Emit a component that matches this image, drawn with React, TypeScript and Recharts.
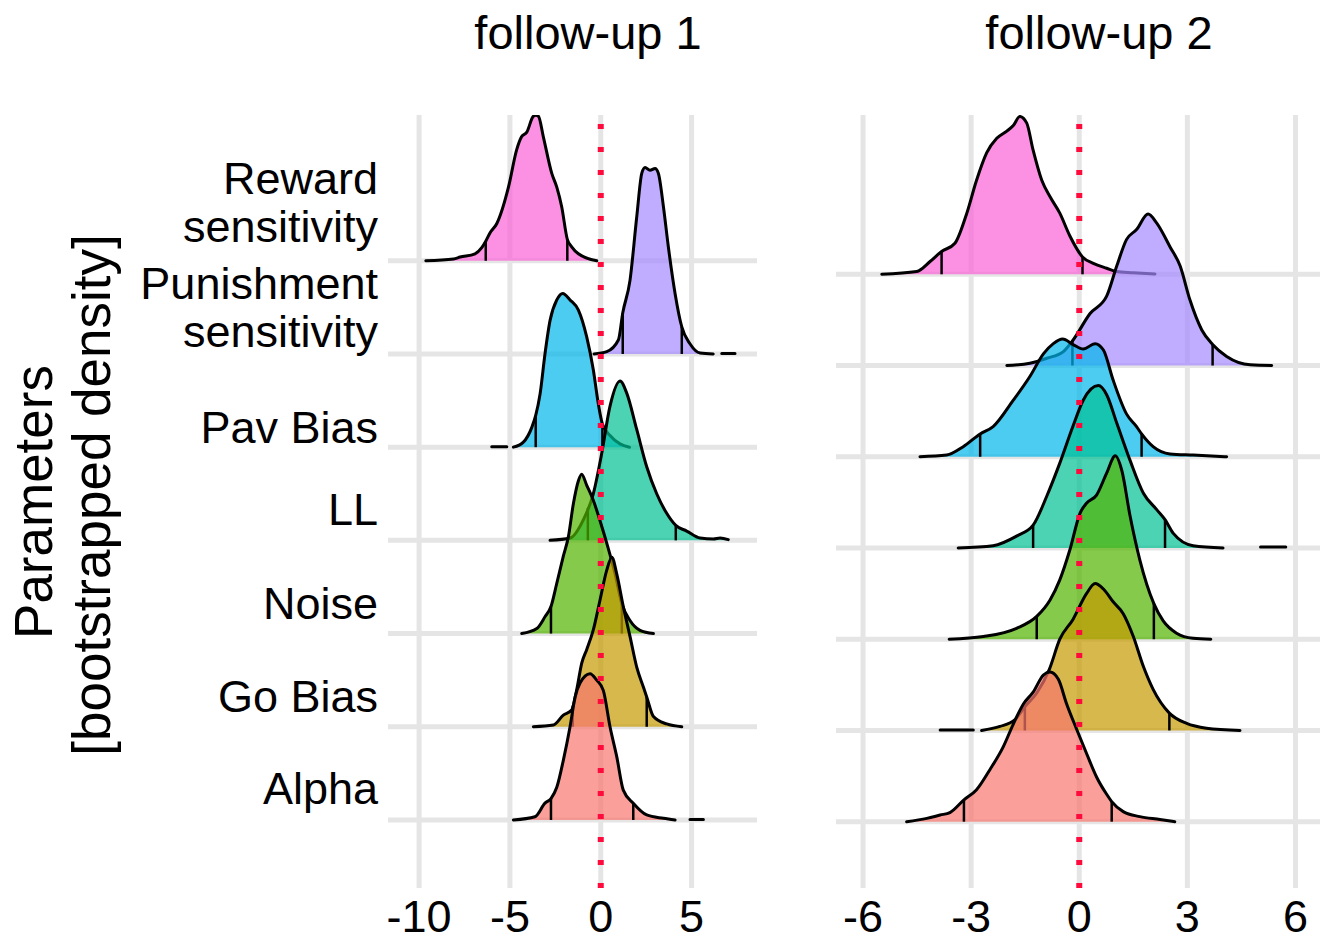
import { ComposedChart, Area, XAxis, YAxis, CartesianGrid, ReferenceLine } from "recharts";

type Pt = [number, number | null];

const FONT = '"Liberation Sans", Arial, Helvetica, sans-serif';

// rows, bottom to top
const params = ["Alpha", "Go Bias", "Noise", "LL", "Pav Bias", "Punishment\nsensitivity", "Reward\nsensitivity"];
const paramColors = ["#F8766D", "#C49A00", "#53B400", "#00C094", "#00B6EB", "#A58AFF", "#FB61D7"];
const rowBase = [0, 1, 2, 3, 4, 5, 6];
// where the y labels sit (baseline of the last text line), in row units
const labelY = [0.17, 1.16, 2.16, 3.17, 4.04, 5.08, 6.2];

const fu1Ticks = [-10, -5, 0, 5];
const fu2Ticks = [-6, -3, 0, 3, 6];

// follow-up 1: [x, ridge height in row units]
const fu1Alpha: Pt[] = [[-4.81, 0], [-3.62, 0.035], [-3.07, 0.18], [-2.74, 0.23], [-2.42, 0.35], [-2.06, 0.64], [-1.69, 1.0], [-1.41, 1.32], [-1.14, 1.47], [-0.59, 1.57], [-0.22, 1.5], [0.14, 1.39], [0.51, 1.0], [0.88, 0.68], [1.24, 0.32], [1.79, 0.18], [2.53, 0.054], [3.45, 0.018], [4.09, 0], [4.5, null], [4.91, 0.005], [5.65, 0.005]];
const fu1GoBias: Pt[] = [[-3.71, 0], [-2.61, 0.018], [-2.06, 0.125], [-1.6, 0.18], [-1.32, 0.4], [-1.05, 0.68], [-0.77, 0.83], [-0.41, 1.04], [-0.04, 1.36], [0.33, 1.68], [0.61, 1.82], [0.88, 1.64], [1.24, 1.29], [1.61, 0.97], [1.98, 0.64], [2.34, 0.43], [2.53, 0.32], [2.9, 0.11], [3.63, 0.03], [4.46, 0]];
const fu1Noise: Pt[] = [[-4.35, 0], [-3.52, 0.054], [-3.07, 0.18], [-2.74, 0.29], [-2.42, 0.54], [-2.06, 0.83], [-1.78, 1.04], [-1.51, 1.39], [-1.23, 1.64], [-1.05, 1.71], [-0.77, 1.59], [-0.41, 1.43], [-0.04, 1.21], [0.33, 0.97], [0.79, 0.64], [1.16, 0.32], [1.61, 0.14], [2.16, 0.035], [2.9, 0]];
const fu1LL: Pt[] = [[-2.79, 0], [-1.69, 0.025], [-0.96, 0.22], [-0.41, 0.5], [0.05, 0.93], [0.51, 1.44], [1.06, 1.71], [1.43, 1.58], [1.98, 1.19], [2.53, 0.79], [3.08, 0.5], [3.63, 0.29], [4.13, 0.16], [4.73, 0.1], [5.47, 0.025], [6.2, 0.015], [6.57, 0.025], [7.02, 0.008]];
const fu1PavBias: Pt[] = [[-6.0, 0.005], [-5.17, 0.005], [-5.0, null], [-4.81, 0], [-4.26, 0.054], [-3.8, 0.21], [-3.58, 0.34], [-3.34, 0.57], [-3.07, 1.0], [-2.79, 1.36], [-2.42, 1.58], [-2.09, 1.65], [-1.69, 1.58], [-1.23, 1.47], [-0.77, 1.18], [-0.41, 0.83], [-0.13, 0.46], [0.09, 0.25], [0.51, 0.125], [1.06, 0.035], [1.58, 0]];
const fu1Punish: Pt[] = [[-0.37, 0], [0.33, 0.025], [0.97, 0.15], [1.21, 0.44], [1.61, 0.79], [1.98, 1.47], [2.26, 1.94], [2.44, 2.0], [2.71, 1.97], [2.99, 1.99], [3.17, 1.94], [3.45, 1.58], [3.72, 1.15], [4.09, 0.65], [4.46, 0.29], [4.91, 0.11], [5.47, 0.01], [6.19, 0], [6.4, null], [6.66, 0.005], [7.39, 0.005]];
const fu1Reward: Pt[] = [[-9.63, 0], [-8.1, 0.02], [-7.74, 0.04], [-6.92, 0.075], [-6.55, 0.14], [-6.33, 0.21], [-6.09, 0.3], [-5.72, 0.4], [-5.08, 0.79], [-4.63, 1.19], [-4.36, 1.33], [-4.07, 1.38], [-3.71, 1.55], [-3.57, 1.56], [-3.43, 1.55], [-3.16, 1.33], [-2.7, 0.94], [-2.42, 0.79], [-2.15, 0.58], [-1.84, 0.23], [-1.6, 0.15], [-1.23, 0.075], [-0.22, 0]];
const fu1Quant = [[-2.74, 1.79], [-1.54, 2.53], [-2.74, 1.16], [-0.71, 4.13], [-3.58, 0.09], [1.21, 4.46], [-6.33, -1.84]];

// follow-up 2
const fu2Alpha: Pt[] = [[-4.79, 0], [-4.23, 0.036], [-3.86, 0.073], [-3.59, 0.1], [-3.2, 0.24], [-2.85, 0.35], [-2.48, 0.57], [-2.11, 0.82], [-1.83, 1.07], [-1.55, 1.29], [-1.28, 1.42], [-0.99, 1.61], [-0.81, 1.64], [-0.58, 1.56], [-0.35, 1.29], [-0.07, 1.01], [0.2, 0.75], [0.48, 0.49], [0.76, 0.3], [0.9, 0.22], [1.22, 0.11], [1.68, 0.055], [2.24, 0.025], [2.65, 0]];
const fu2GoBias: Pt[] = [[-3.86, 0.005], [-2.94, 0.005], [-2.8, null], [-2.71, 0], [-2.2, 0.044], [-1.78, 0.12], [-1.51, 0.26], [-1.18, 0.41], [-0.83, 0.67], [-0.54, 1.0], [-0.17, 1.22], [0.2, 1.5], [0.44, 1.61], [0.67, 1.55], [0.94, 1.41], [1.22, 1.28], [1.5, 1.03], [1.78, 0.7], [2.05, 0.45], [2.5, 0.19], [2.98, 0.077], [3.53, 0.025], [4.46, 0]];
const fu2Noise: Pt[] = [[-3.61, 0], [-2.66, 0.03], [-1.74, 0.12], [-1.18, 0.25], [-0.81, 0.43], [-0.54, 0.65], [-0.26, 0.98], [0.02, 1.38], [0.2, 1.49], [0.48, 1.58], [0.76, 1.82], [1.0, 2.01], [1.18, 1.85], [1.41, 1.35], [1.68, 0.87], [2.07, 0.39], [2.33, 0.2], [2.7, 0.066], [3.16, 0.01], [3.65, 0]];
const fu2LL: Pt[] = [[-3.36, 0], [-2.39, 0.025], [-1.74, 0.13], [-1.28, 0.25], [-0.9, 0.57], [-0.54, 0.93], [-0.17, 1.34], [0.11, 1.62], [0.53, 1.78], [0.76, 1.68], [1.04, 1.37], [1.41, 0.96], [1.78, 0.6], [2.15, 0.42], [2.38, 0.31], [2.61, 0.16], [3.16, 0.025], [3.99, 0], [4.5, null], [5.03, 0.01], [5.73, 0.01]];
const fu2PavBias: Pt[] = [[-4.42, 0], [-3.68, 0.018], [-3.22, 0.11], [-2.75, 0.25], [-2.39, 0.33], [-1.83, 0.62], [-1.37, 0.88], [-0.99, 1.13], [-0.72, 1.24], [-0.46, 1.29], [-0.17, 1.23], [0.11, 1.18], [0.44, 1.24], [0.67, 1.17], [0.94, 0.84], [1.31, 0.47], [1.59, 0.33], [1.73, 0.25], [2.05, 0.11], [2.52, 0.03], [3.16, 0.018], [4.09, 0]];
const fu2Punish: Pt[] = [[-2.01, 0], [-1.37, 0.025], [-0.9, 0.08], [-0.45, 0.15], [-0.17, 0.28], [0.3, 0.57], [0.76, 0.76], [1.04, 1.09], [1.31, 1.38], [1.59, 1.49], [1.91, 1.66], [2.15, 1.56], [2.52, 1.3], [2.8, 1.09], [3.07, 0.72], [3.4, 0.39], [3.7, 0.23], [4.09, 0.1], [4.74, 0.008], [5.34, 0]];
const fu2Reward: Pt[] = [[-5.48, 0], [-4.51, 0.03], [-4.14, 0.14], [-3.82, 0.25], [-3.45, 0.34], [-3.12, 0.67], [-2.85, 1.03], [-2.57, 1.33], [-2.29, 1.49], [-2.01, 1.57], [-1.83, 1.63], [-1.65, 1.73], [-1.46, 1.66], [-1.28, 1.36], [-1.04, 1.03], [-0.81, 0.85], [-0.54, 0.67], [-0.26, 0.42], [0.09, 0.19], [0.39, 0.12], [0.76, 0.066], [1.04, 0.03], [1.5, 0.018], [2.1, 0.004]];
const fu2Quant = [[-3.2, 0.9], [-1.51, 2.5], [-1.18, 2.07], [-1.28, 2.38], [-2.75, 1.73], [-0.19, 3.7], [-3.82, 0.09]];

const fu1 = [fu1Alpha, fu1GoBias, fu1Noise, fu1LL, fu1PavBias, fu1Punish, fu1Reward];
const fu2 = [fu2Alpha, fu2GoBias, fu2Noise, fu2LL, fu2PavBias, fu2Punish, fu2Reward];

function heightAt(pts: Pt[], q: number) {
  for (let i = 0; i < pts.length - 1; i++) {
    const [x0, h0] = pts[i];
    const [x1, h1] = pts[i + 1];
    if (h0 == null || h1 == null) continue;
    if (q >= x0 && q <= x1) return h0 + ((h1 - h0) * (q - x0)) / (x1 - x0);
  }
  return 0;
}

function ParamTick(props: any) {
  const { x, y, index } = props;
  const lines = params[index].split("\n");
  return (
    <text x={x} y={y} textAnchor="end" fontSize={45} fill="#000" fontFamily={FONT}>
      {lines.map((l, i) => (
        <tspan key={i} x={x} dy={i === 0 ? -(lines.length - 1) * 48 : 48}>
          {l}
        </tspan>
      ))}
    </text>
  );
}

function Panel({
  ridges,
  quants,
  xDomain,
  yDomain,
  xTicks,
  left,
  width,
  rightMargin,
  withLabels,
}: {
  ridges: Pt[][];
  quants: number[][];
  xDomain: [number, number];
  yDomain: [number, number];
  xTicks: number[];
  left: number;
  width: number;
  rightMargin: number;
  withLabels: boolean;
}) {
  const order = [6, 5, 4, 3, 2, 1, 0];
  return (
    <div style={{ position: "absolute", left, top: 0 }}>
      <ComposedChart width={width} height={942} margin={{ top: 115, right: rightMargin, bottom: 0, left: 0 }}>
        <CartesianGrid stroke="#e5e5e5" strokeWidth={5} vertical={false} horizontalValues={rowBase} />
        <XAxis
          type="number"
          dataKey="x"
          domain={xDomain}
          ticks={xTicks}
          allowDataOverflow
          interval={0}
          axisLine={false}
          tickLine={false}
          tickSize={0}
          tickMargin={12}
          height={54}
          tick={{ fontSize: 45, fill: "#000", fontFamily: FONT }}
        />
        <YAxis
          type="number"
          domain={yDomain}
          allowDataOverflow
          ticks={labelY}
          interval={0}
          hide={!withLabels}
          width={withLabels ? 388 : 0}
          axisLine={false}
          tickLine={false}
          tickSize={0}
          tickMargin={10}
          tick={<ParamTick />}
        />
        {xTicks.map((t) => (
          <ReferenceLine key={`g${t}`} x={t} stroke="#e5e5e5" strokeWidth={5} zIndex={-50} />
        ))}
        {order.map((r, d) => {
          const base = rowBase[r];
          const pts = ridges[r];
          const data = pts.map(([x, h]) => ({ x, y: h === null ? null : base + h }));
          return [
            <Area
              key={`a${r}`}
              data={data}
              dataKey="y"
              type="monotone"
              baseValue={base}
              fill={paramColors[r]}
              fillOpacity={0.7}
              stroke="#000"
              strokeWidth={3}
              strokeLinejoin="round"
              strokeLinecap="round"
              dot={false}
              activeDot={false}
              isAnimationActive={false}
              zIndex={100 + 2 * d}
            />,
            ...quants[r].map((q, j) => (
              <ReferenceLine
                key={`q${r}-${j}`}
                segment={[
                  { x: q, y: base },
                  { x: q, y: base + heightAt(pts, q) },
                ]}
                stroke="#000"
                strokeWidth={2.5}
                zIndex={101 + 2 * d}
              />
            )),
          ];
        })}
        <ReferenceLine x={0} stroke="#ff0a3c" strokeWidth={6} strokeDasharray="5 18" zIndex={900} />
      </ComposedChart>
    </div>
  );
}

export default function App() {
  return (
    <div style={{ position: "absolute", left: 0, top: 0, width: 1325, height: 942, background: "#fff" }}>
      <svg width={1325} height={942} style={{ position: "absolute", left: 0, top: 0 }}>
        <text x={588} y={49} textAnchor="middle" fontSize={47} fontFamily={FONT} fill="#000">
          follow-up 1
        </text>
        <text x={1099} y={49} textAnchor="middle" fontSize={47} fontFamily={FONT} fill="#000">
          follow-up 2
        </text>
        <text transform="translate(52,502) rotate(-90)" textAnchor="middle" fontSize={53} fontFamily={FONT} fill="#000">
          Parameters
        </text>
        <text transform="translate(110,495) rotate(-90)" textAnchor="middle" fontSize={53} fontFamily={FONT} fill="#000">
          [bootstrapped density]
        </text>
      </svg>
      <Panel
        ridges={fu1}
        quants={fu1Quant}
        xDomain={[-11.71, 8.6]}
        yDomain={[-0.73, 7.564]}
        xTicks={fu1Ticks}
        left={0}
        width={770}
        rightMargin={13}
        withLabels
      />
      <Panel
        ridges={fu2}
        quants={fu2Quant}
        xDomain={[-6.75, 6.68]}
        yDomain={[-0.727, 7.746]}
        xTicks={fu2Ticks}
        left={836}
        width={489}
        rightMargin={5}
        withLabels={false}
      />
    </div>
  );
}
